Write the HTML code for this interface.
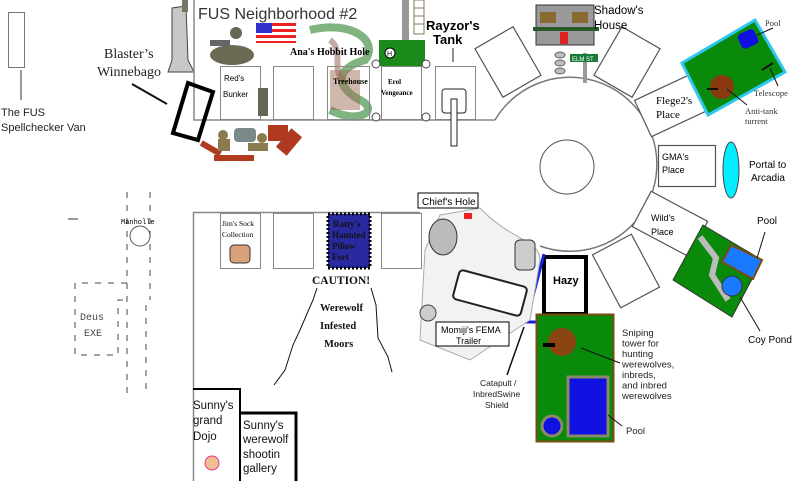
<!DOCTYPE html>
<html><head><meta charset="utf-8"><style>
html,body{margin:0;padding:0;background:#fff;}
svg{display:block}
.s{font-family:"Liberation Sans",sans-serif;}
.r{font-family:"Liberation Serif",serif;}
</style></head><body>
<svg width="800" height="481" viewBox="0 0 800 481" xmlns="http://www.w3.org/2000/svg">
<rect x="8.5" y="12.5" width="16" height="55" fill="#fff" stroke="#777"/>
<line x1="21" y1="70" x2="21" y2="100" stroke="#777" stroke-width="1.5"/>
<text x="1" y="116" class="s" font-size="11" fill="#222">The FUS</text>
<text x="1" y="131" class="s" font-size="11" fill="#222">Spellchecker Van</text>
<text x="104" y="58" class="r" font-size="14" fill="#222">Blaster’s</text>
<text x="97" y="76" class="r" font-size="14" fill="#222">Winnebago</text>
<line x1="132" y1="84" x2="167" y2="104" stroke="#111" stroke-width="2"/>
<polygon points="172,8 186,6 188,60 194,72 168,72 172,60" fill="#c8c8c8" stroke="#444"/>
<rect x="182" y="0" width="6" height="12" fill="#776"/>
<path d="M194,0 V120 H495" fill="none" stroke="#888" stroke-width="1.5"/>
<text x="198" y="19" class="s" font-size="16" fill="#333">FUS  Neighborhood  #2</text>
<rect x="402" y="0" width="7" height="40" fill="#999"/>
<rect x="414" y="0" width="10" height="34" fill="#fff" stroke="#875"/>
<line x1="414" y1="8" x2="424" y2="8" stroke="#875"/><line x1="414" y1="16" x2="424" y2="16" stroke="#875"/><line x1="414" y1="24" x2="424" y2="24" stroke="#875"/>
<rect x="379" y="40" width="46" height="26" fill="#1a8a1a"/>
<circle cx="390" cy="53" r="5" fill="#fff" stroke="#000"/>
<text x="387" y="56" class="s" font-size="7">H</text>
<text x="426" y="30" class="s" font-size="13" font-weight="bold">Rayzor's</text>
<text x="433" y="44" class="s" font-size="13" font-weight="bold">Tank</text>
<line x1="453" y1="48" x2="453" y2="62" stroke="#222"/>
<rect x="256" y="23" width="40" height="20" fill="#fff"/>
<g fill="#e22"><rect x="256" y="23" width="40" height="3"/><rect x="256" y="29" width="40" height="3"/><rect x="256" y="35" width="40" height="3"/><rect x="256" y="41" width="40" height="2"/></g>
<rect x="256" y="23" width="16" height="10" fill="#33c"/>
<ellipse cx="232" cy="55" rx="22" ry="10" fill="#6b6b55"/>
<rect x="210" y="40" width="20" height="6" fill="#666"/>
<circle cx="236" cy="33" r="6" fill="#665"/>
<path d="M310,30 C350,20 380,40 365,60 C330,70 340,90 360,100 C380,110 360,125 330,110" fill="none" stroke="#3a8a3a" stroke-width="8" opacity="0.65"/>
<path d="M330,40 C345,50 330,75 345,80" fill="none" stroke="#8a5a4a" stroke-width="6" opacity="0.5"/>
<rect x="330" y="70" width="30" height="40" fill="#a0705a" opacity="0.5"/>
<text x="290" y="55" class="r" font-size="10" font-weight="bold">Ana's Hobbit Hole</text>
<rect x="220.5" y="66.5" width="40" height="53" fill="#fff" stroke="#888"/>
<text x="224" y="81" class="s" font-size="8">Red's</text><text x="223" y="97" class="s" font-size="8">Bunker</text>
<rect x="258" y="88" width="10" height="28" fill="#665"/>
<rect x="273.5" y="66.5" width="40" height="53" fill="#fff" stroke="#888"/>
<rect x="327.5" y="66.5" width="42" height="53" fill="none" stroke="#888"/>
<text x="333" y="84" class="r" font-size="8" font-weight="bold">Treehouse</text>
<rect x="381.5" y="66.5" width="40" height="53" fill="#fff" stroke="#888"/>
<text x="388" y="84" class="r" font-size="7" font-weight="bold">Erol</text><text x="381" y="95" class="r" font-size="7" font-weight="bold">Vengeance</text>
<g fill="#fff" stroke="#444"><circle cx="376" cy="64" r="4"/><circle cx="426" cy="64" r="4"/><circle cx="376" cy="117" r="4"/><circle cx="426" cy="117" r="4"/></g>
<rect x="435.5" y="66.5" width="40" height="53" fill="#fff" stroke="#888"/>
<rect x="442" y="89" width="24" height="24" rx="3" fill="#fff" stroke="#222"/>
<rect x="451" y="99" width="6" height="47" fill="#fff" stroke="#222"/>
<polygon points="188,83 213,92 198,140 173,133" fill="none" stroke="#000" stroke-width="4"/>
<g fill="#b03a20"><rect x="200" y="145" width="22" height="6" transform="rotate(30 210 148)"/><rect x="268" y="125" width="20" height="16"/><rect x="282" y="130" width="14" height="24" transform="rotate(40 289 142)"/><rect x="214" y="155" width="40" height="6"/></g>
<g fill="#8a7a50"><circle cx="223" cy="135" r="5"/><circle cx="262" cy="138" r="5"/><rect x="218" y="139" width="12" height="12"/><rect x="248" y="143" width="20" height="8"/></g>
<g fill="#7a8a8a"><rect x="234" y="128" width="22" height="14" rx="4"/></g>
<path d="M495,120 A87,87 0 1 1 540,246" fill="none" stroke="#777" stroke-width="1.5"/>
<circle cx="567" cy="167" r="27" fill="#fff" stroke="#555"/>
<g fill="#fff" stroke="#555" stroke-width="1.2">
<rect x="-22" y="-28" width="44" height="56" transform="translate(508,62) rotate(-30)"/>
<rect x="-22" y="-28" width="44" height="56" transform="translate(627,62) rotate(30)"/>
<rect x="-32" y="-20" width="64" height="40" transform="translate(672,105) rotate(-25)"/>
<rect x="658.5" y="145.5" width="57" height="41"/>
<rect x="-32" y="-20" width="64" height="40" transform="translate(670,224) rotate(28)"/>
<rect x="-22" y="-30" width="44" height="60" transform="translate(626,271) rotate(-28)"/>
</g>
<text x="656" y="104" class="r" font-size="11">Flege2's</text><text x="656" y="118" class="r" font-size="11">Place</text>
<text x="662" y="160" class="s" font-size="9">GMA's</text><text x="662" y="173" class="s" font-size="9">Place</text>
<text x="651" y="221" class="s" font-size="9">Wild's</text><text x="651" y="235" class="s" font-size="9">Place</text>
<ellipse cx="731" cy="170" rx="8" ry="28" fill="#00eeff" stroke="#444"/>
<text x="749" y="168" class="s" font-size="10">Portal to</text><text x="751" y="181" class="s" font-size="10">Arcadia</text>
<rect x="536" y="5" width="58" height="40" fill="#999" stroke="#333"/>
<rect x="540" y="12" width="16" height="11" fill="#8a6a30"/><rect x="572" y="12" width="16" height="11" fill="#8a6a30"/>
<rect x="560" y="32" width="8" height="12" fill="#d22"/>
<rect x="533" y="27" width="66" height="4" fill="#2a5a2a"/>
<g fill="#bbb" stroke="#666"><ellipse cx="560" cy="55" rx="5" ry="3"/><ellipse cx="560" cy="63" rx="5" ry="3"/><ellipse cx="560" cy="71" rx="5" ry="3"/></g>
<rect x="583" y="53" width="4" height="30" fill="#999"/>
<rect x="570" y="54" width="28" height="8" fill="#1a7a3a"/><text x="572" y="61" class="s" font-size="6" fill="#fff">ELM ST</text>
<text x="594" y="14" class="s" font-size="11.5">Shadow's</text><text x="594" y="29" class="s" font-size="11.5">House</text>
<polygon points="682,63 755,20 785,72 708,115" fill="#0a8a0a" stroke="#2cc8f0" stroke-width="3"/>
<rect x="739" y="31" width="18" height="16" rx="4" fill="#1010e0" transform="rotate(-25 748 39)"/>
<line x1="762" y1="70" x2="773" y2="63" stroke="#111" stroke-width="2"/>
<circle cx="722" cy="87" r="12" fill="#8b3a10"/>
<line x1="707" y1="89" x2="718" y2="89" stroke="#111" stroke-width="2"/>
<text x="765" y="26" class="r" font-size="8.5" fill="#333">Pool</text>
<line x1="757" y1="35" x2="773" y2="28" stroke="#111"/>
<text x="754" y="96" class="r" font-size="8.5" fill="#333">Telescope</text>
<line x1="770" y1="68" x2="778" y2="86" stroke="#111"/>
<text x="745" y="114" class="r" font-size="8.5" fill="#333">Anti-tank</text><text x="745" y="124" class="r" font-size="8.5" fill="#333">turrent</text>
<line x1="727" y1="89" x2="747" y2="105" stroke="#111"/>
<polygon points="703,225 762,260 732,317 673,280" fill="#0a8a0a" stroke="#333"/>
<path d="M700,237 L716,258 L712,275 L728,300" fill="none" stroke="#bbb" stroke-width="6"/>
<polygon points="731,245 762,260 753,279 722,262" fill="#1a7aff" stroke="#7a4a10" stroke-width="2"/>
<circle cx="732" cy="286" r="10" fill="#1a7aff" stroke="#333"/>
<text x="757" y="224" class="s" font-size="10">Pool</text>
<line x1="765" y1="232" x2="757" y2="258" stroke="#111"/>
<text x="748" y="343" class="s" font-size="10">Coy Pond</text>
<line x1="740" y1="297" x2="760" y2="331" stroke="#111"/>
<rect x="544" y="257" width="42" height="57" fill="#fff" stroke="#000" stroke-width="4"/>
<text x="553" y="284" class="s" font-size="11" font-weight="bold">Hazy</text>
<polyline points="544,254 532,300 525,322 536,322" fill="none" stroke="#1020e0" stroke-width="3"/>
<rect x="536.5" y="314.5" width="77" height="127" fill="#0a8a0a" stroke="#7a4a10" stroke-width="2"/>
<circle cx="562" cy="342" r="14" fill="#8b4513"/>
<rect x="543" y="343" width="12" height="4" fill="#000"/>
<rect x="568" y="377" width="40" height="59" fill="#1010e0" stroke="#8a8a6a" stroke-width="3"/>
<circle cx="552" cy="426" r="10" fill="#1010e0" stroke="#8a8a6a" stroke-width="3"/>
<line x1="581" y1="348" x2="620" y2="363" stroke="#111"/>
<g class="s" font-size="9.5" fill="#222"><text x="622" y="336">Sniping</text><text x="622" y="346.5">tower for</text><text x="622" y="357">hunting</text><text x="622" y="367.5">werewolves,</text><text x="622" y="378">inbreds,</text><text x="622" y="388.5">and inbred</text><text x="622" y="399">werewolves</text>
<text x="626" y="434">Pool</text></g>
<line x1="608" y1="415" x2="622" y2="426" stroke="#111"/>
<line x1="524" y1="327" x2="507" y2="375" stroke="#111" stroke-width="1.5"/>
<g class="s" font-size="8.5" fill="#222"><text x="480" y="386">Catapult /</text><text x="473" y="397">InbredSwine</text><text x="485" y="408">Shield</text></g>
<path d="M480,208 C510,240 540,240 540,260 L530,320 L470,360 L420,340 L425,250 L440,215 Z" fill="#f2f2f2" stroke="#aaa"/>
<ellipse cx="443" cy="237" rx="14" ry="18" fill="#bbb" stroke="#333"/>
<rect x="515" y="240" width="20" height="30" rx="5" fill="#ccc" stroke="#333"/>
<rect x="455" y="278" width="70" height="30" rx="4" fill="#fff" stroke="#222" stroke-width="2" transform="rotate(15 490 293)"/>
<circle cx="428" cy="313" r="8" fill="#ccc" stroke="#444"/>
<rect x="418" y="193" width="60" height="15" fill="#fff" stroke="#000"/>
<text x="422" y="205" class="s" font-size="10">Chief's Hole</text>
<rect x="464" y="213" width="8" height="6" fill="#e22"/>
<rect x="436" y="322" width="73" height="24" fill="#fff" stroke="#000"/>
<text x="441" y="333" class="s" font-size="9">Momiji's FEMA</text><text x="456" y="344" class="s" font-size="9">Trailer</text>
<path d="M193.5,481 V212.5 H420" fill="none" stroke="#888" stroke-width="1.5"/>
<rect x="220.5" y="213.5" width="40" height="55" fill="#fff" stroke="#888"/>
<text x="222" y="226" class="r" font-size="7.5">Jim's Sock</text><text x="222" y="237" class="r" font-size="7.5">Collection</text>
<rect x="230" y="245" width="20" height="18" rx="4" fill="#d9a07a" stroke="#333"/>
<rect x="273.5" y="213.5" width="40" height="55" fill="#fff" stroke="#888"/>
<rect x="328" y="214" width="42" height="54" fill="#2a2aa0" stroke="#000" stroke-width="3" stroke-dasharray="2 2"/>
<g class="r" font-size="9" font-weight="bold" fill="#111"><text x="333" y="227">Ratty's</text><text x="332" y="238">Haunted</text><text x="332" y="249">Pillow</text><text x="332" y="260">Fort</text></g>
<rect x="381.5" y="213.5" width="40" height="55" fill="#fff" stroke="#888"/>
<g class="r" font-weight="bold" fill="#111"><text x="312" y="284" font-size="11.5">CAUTION!</text>
<text x="320" y="311" font-size="10.5">Werewolf</text><text x="320" y="329" font-size="10.5">Infested</text><text x="324" y="347" font-size="10.5">Moors</text></g>
<path d="M317,288 L313,300 L300,330 L293,345 L285,370 L274,385" fill="none" stroke="#111"/>
<path d="M371,288 L376,305 L378,338 L388,357 L392,372" fill="none" stroke="#111"/>
<g stroke="#444" stroke-width="1" stroke-dasharray="6 7" fill="none">
<line x1="127" y1="192" x2="127" y2="395"/><line x1="150" y1="192" x2="150" y2="300"/>
<line x1="146" y1="305" x2="146" y2="395"/>
<path d="M127,283 H75 V355 H118 V300 H127"/>
</g>
<line x1="68" y1="219" x2="78" y2="219" stroke="#333"/>
<text x="121" y="224" font-family="Liberation Mono,monospace" font-size="7">Manholle</text>
<circle cx="140" cy="236" r="10" fill="#fff" stroke="#555"/>
<text x="80" y="320" font-family="Liberation Mono,monospace" font-size="10" fill="#444">Deus</text>
<text x="84" y="336" font-family="Liberation Mono,monospace" font-size="10" fill="#444">EXE</text>
<path d="M193,389 H240 V481" fill="none" stroke="#000" stroke-width="2"/>
<path d="M240,413 H296 V481" fill="none" stroke="#000" stroke-width="3"/>
<g class="s" font-size="11.5" fill="#111"><text x="193" y="409">Sunny's</text><text x="193" y="424">grand</text><text x="193" y="440">Dojo</text>
<text x="243" y="429">Sunny's</text><text x="243" y="443">werewolf</text><text x="243" y="458">shootin</text><text x="243" y="472">gallery</text></g>
<circle cx="212" cy="463" r="7" fill="#f0c090" stroke="#e2308a"/>
</svg>
</body></html>
